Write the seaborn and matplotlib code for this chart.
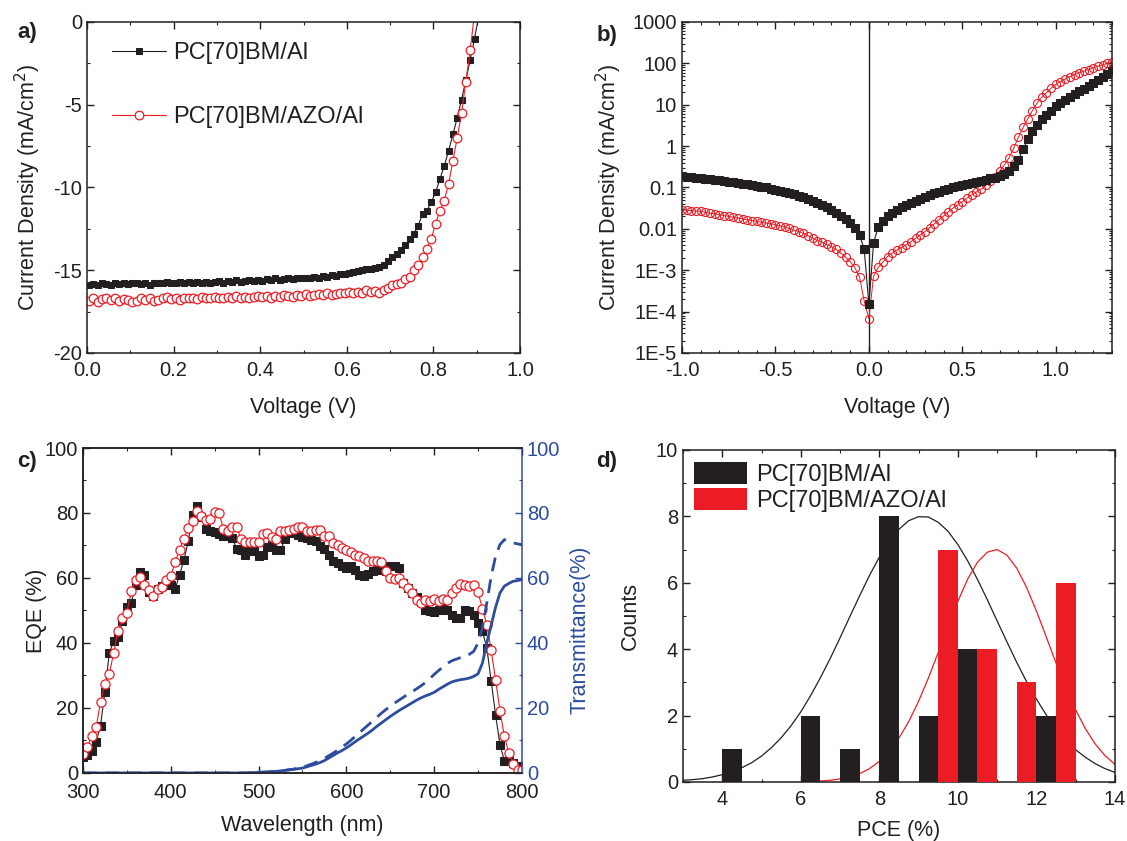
import numpy as np
import seaborn as sns
import matplotlib.pyplot as plt
from matplotlib.patches import Patch
from matplotlib.ticker import MultipleLocator, LogLocator, NullFormatter, FormatStrFormatter

# ---------------- data ----------------
# a) J-V under illumination
voltage_a = np.round(np.arange(0.005, 0.91, 0.01), 3)
j_al = [-15.90, -15.85, -15.90, -15.80, -15.85, -15.90, -15.80, -15.85, -15.80, -15.85,
        -15.80, -15.75, -15.85, -15.80, -15.90, -15.80, -15.75, -15.80, -15.70, -15.80,
        -15.75, -15.70, -15.80, -15.70, -15.75, -15.70, -15.80, -15.70, -15.75, -15.70,
        -15.65, -15.75, -15.65, -15.70, -15.60, -15.70, -15.65, -15.60, -15.65, -15.60,
        -15.65, -15.55, -15.60, -15.50, -15.60, -15.55, -15.50, -15.55, -15.45, -15.50,
        -15.45, -15.50, -15.40, -15.45, -15.35, -15.40, -15.30, -15.35, -15.25, -15.20,
        -15.15, -15.10, -15.05, -15.00, -14.95, -14.90, -14.85, -14.80, -14.70, -14.45,
        -14.20, -14.00, -13.80, -13.50, -13.10, -12.80, -12.30, -11.60, -11.40, -10.90,
        -10.30, -9.50, -8.70, -7.80, -6.80, -5.80, -4.70, -3.50, -2.30, -1.00,
        0.40]
j_azo = [-16.85, -16.70, -16.90, -16.75, -16.70, -16.80, -16.70, -16.85, -16.75, -16.80,
         -16.90, -16.85, -16.70, -16.80, -16.70, -16.85, -16.80, -16.70, -16.60, -16.75,
         -16.70, -16.80, -16.70, -16.65, -16.70, -16.75, -16.60, -16.70, -16.65, -16.60,
         -16.70, -16.65, -16.60, -16.70, -16.55, -16.65, -16.60, -16.70, -16.60, -16.55,
         -16.60, -16.55, -16.65, -16.55, -16.60, -16.50, -16.55, -16.60, -16.50, -16.55,
         -16.45, -16.55, -16.50, -16.45, -16.50, -16.40, -16.50, -16.45, -16.40, -16.40,
         -16.30, -16.40, -16.30, -16.35, -16.20, -16.30, -16.25, -16.35, -16.20, -16.10,
         -15.90, -15.85, -15.80, -15.55, -15.40, -15.00, -14.70, -14.20, -13.70, -13.10,
         -12.20, -11.40, -10.80, -9.80, -8.40, -7.00, -5.50, -3.60, -1.70, 0.50,
         2.50]

# b) dark J-V (absolute current density)
voltage_b = np.round(np.arange(-1.0, 1.3001, 0.025), 3)
jd_al = [0.186, 0.182, 0.178, 0.174, 0.170, 0.164, 0.158, 0.153, 0.148, 0.143,
         0.138, 0.133, 0.129, 0.124, 0.120, 0.115, 0.110, 0.105, 0.100, 0.0933,
         0.0871, 0.0832, 0.0776, 0.0724, 0.0676, 0.0631, 0.0575, 0.0525, 0.0468, 0.0427,
         0.0380, 0.0331, 0.0288, 0.0245, 0.0204, 0.0170, 0.0138, 0.0105, 0.0071, 0.0032,
         0.00015, 0.0045, 0.0112, 0.0151, 0.0200, 0.0240, 0.0282, 0.0331, 0.0380, 0.0427,
         0.0479, 0.0537, 0.0603, 0.0661, 0.0724, 0.0794, 0.0871, 0.0933, 0.102, 0.110,
         0.116, 0.123, 0.130, 0.138, 0.145, 0.155, 0.166, 0.174, 0.186, 0.209,
         0.245, 0.324, 0.468, 0.832, 1.45, 2.29, 3.31, 4.47, 5.75, 7.24,
         9.12, 11.0, 12.9, 15.1, 17.8, 20.9, 24.5, 28.8, 33.9, 39.8,
         46.8, 55.0, 64.6]
jd_azo = [0.0288, 0.0282, 0.0275, 0.0269, 0.0263, 0.0251, 0.0240, 0.0229, 0.0219, 0.0209,
          0.0200, 0.0191, 0.0182, 0.0174, 0.0166, 0.0158, 0.0151, 0.0145, 0.0138, 0.0132,
          0.0126, 0.0117, 0.0110, 0.0102, 0.0093, 0.0085, 0.0078, 0.0068, 0.0059, 0.0052,
          0.0047, 0.0042, 0.0037, 0.0032, 0.0026, 0.0021, 0.0016, 0.00115, 0.00069, 0.00018,
          0.000068, 0.00071, 0.00117, 0.00158, 0.00214, 0.0026, 0.0031, 0.0035, 0.0041, 0.0049,
          0.0059, 0.0071, 0.0085, 0.0107, 0.0132, 0.0166, 0.0204, 0.0257, 0.0316, 0.0380,
          0.0457, 0.0550, 0.0661, 0.0776, 0.0912, 0.112, 0.141, 0.182, 0.251, 0.355,
          0.525, 0.891, 1.66, 2.82, 4.57, 7.24, 11.0, 15.1, 19.5, 25.1,
          30.9, 36.3, 41.7, 47.9, 53.7, 58.9, 64.6, 70.8, 77.6, 85.1,
          91.2, 100.0, 107.0]
log_ticks = [1e-5, 1e-4, 1e-3, 1e-2, 1e-1, 1, 10, 100, 1000]
log_labels = ["1E-5", "1E-4", "1E-3", "0.01", "0.1", "1", "10", "100", "1000"]

# c) EQE and transmittance
wavelength = np.arange(300, 801, 5)
eqe_al = [5.0, 5.5, 6.9, 9.4, 14.6, 25.0, 37.0, 40.5, 41.8, 46.7,
          51.0, 52.3, 57.9, 61.8, 60.8, 55.6, 54.6, 56.5, 57.5, 58.2,
          57.9, 56.7, 60.8, 65.6, 71.3, 79.3, 82.1, 78.8, 75.0, 74.5,
          74.0, 73.5, 73.0, 72.8, 72.4, 69.0, 68.5, 67.1, 68.8, 68.2,
          66.7, 67.0, 69.5, 70.0, 68.7, 68.5, 72.0, 73.8, 73.8, 73.3,
          72.6, 72.3, 71.8, 71.3, 69.7, 68.9, 67.2, 65.1, 64.6, 63.8,
          63.1, 63.6, 62.6, 61.0, 60.5, 61.2, 62.0, 62.8, 62.6, 62.0,
          63.6, 63.8, 63.0, 58.5, 56.9, 55.4, 54.0, 52.5, 50.3, 49.7,
          49.4, 50.3, 50.8, 50.0, 48.7, 47.7, 47.7, 50.3, 49.7, 48.7,
          46.2, 43.6, 38.5, 28.2, 17.9, 8.7, 3.8, 3.6, 3.1, 2.0,
          0.5]
eqe_azo = [5.9, 7.9, 11.5, 14.0, 21.8, 27.4, 30.5, 37.0, 43.8, 47.6,
           49.3, 55.9, 59.4, 60.3, 57.7, 56.4, 54.6, 56.7, 57.2, 59.5,
           60.5, 64.9, 68.7, 72.1, 75.4, 77.4, 80.5, 79.0, 77.7, 78.2,
           80.3, 80.0, 75.2, 74.6, 75.7, 75.7, 72.1, 71.0, 71.0, 71.0,
           71.0, 73.6, 73.8, 72.6, 72.1, 74.4, 74.6, 74.9, 75.1, 75.6,
           75.6, 74.4, 74.4, 74.9, 74.9, 72.8, 72.8, 70.8, 70.3, 69.2,
           68.7, 67.9, 67.2, 66.7, 66.2, 65.3, 65.1, 65.1, 64.9, 62.1,
           60.0, 59.7, 60.0, 58.5, 56.9, 55.4, 53.3, 52.3, 53.3, 52.8,
           53.5, 52.8, 53.5, 53.3, 55.4, 56.9, 58.3, 57.9, 57.6, 57.9,
           55.6, 50.6, 45.6, 37.7, 28.7, 19.2, 11.3, 6.2, 2.9, 1.0,
           1.0]
trans_solid = [0.0, 0.0, 0.0, 0.0, 0.0, 0.0, 0.0, 0.0, 0.0, 0.0,
               0.0, 0.0, 0.0, 0.0, 0.0, 0.0, 0.0, 0.0, 0.0, 0.0,
               0.0, 0.0, 0.0, 0.0, 0.0, 0.0, 0.0, 0.0, 0.0, 0.0,
               0.0, 0.0, 0.0, 0.0, 0.0, 0.0, 0.0, 0.0, 0.05, 0.1,
               0.2, 0.25, 0.3, 0.4, 0.5, 0.65, 0.8, 0.95, 1.1, 1.3,
               1.5, 1.9, 2.3, 2.7, 3.2, 3.8, 4.6, 5.4, 6.2, 6.9,
               7.7, 8.6, 9.6, 10.5, 11.4, 12.3, 13.3, 14.4, 15.4, 16.4,
               17.4, 18.3, 19.2, 20.0, 20.8, 21.6, 22.4, 23.1, 23.7, 24.2,
               24.8, 25.7, 26.5, 27.3, 28.0, 28.4, 28.7, 28.9, 29.2, 29.7,
               30.5, 33.8, 40.0, 45.5, 51.0, 55.4, 57.5, 58.3, 59.0, 59.2,
               59.5]
trans_dashed = [0.0, 0.0, 0.0, 0.0, 0.0, 0.0, 0.0, 0.0, 0.0, 0.0,
                0.0, 0.0, 0.0, 0.0, 0.0, 0.0, 0.0, 0.0, 0.0, 0.0,
                0.0, 0.0, 0.0, 0.0, 0.0, 0.0, 0.0, 0.0, 0.0, 0.0,
                0.0, 0.0, 0.0, 0.0, 0.0, 0.0, 0.0, 0.0, 0.05, 0.1,
                0.2, 0.25, 0.3, 0.4, 0.5, 0.65, 0.8, 1.0, 1.2, 1.5,
                1.8, 2.2, 2.7, 3.2, 3.8, 4.5, 5.3, 6.1, 7.0, 8.0,
                8.9, 10.0, 11.2, 12.4, 13.6, 14.8, 16.0, 17.2, 18.4, 19.5,
                20.5, 21.5, 22.4, 23.3, 24.2, 25.0, 25.9, 26.8, 27.8, 29.0,
                30.3, 31.5, 32.6, 33.7, 34.5, 35.0, 35.5, 36.0, 36.5, 37.4,
                40.0, 44.6, 52.3, 60.5, 66.7, 70.3, 71.8, 71.3, 70.8, 70.5,
                70.3]

# d) PCE histogram + normal fits
pce_al = [4.25, 6.25, 7.25, 8.25, 9.25, 10.25, 12.25]
counts_al = [1, 2, 1, 8, 2, 4, 2]
pce_azo = [9.75, 10.75, 11.75, 12.75]
counts_azo = [7, 4, 3, 6]
fit_x_al = np.arange(3.0, 14.01, 0.25)
fit_al = [0.05, 0.07, 0.10, 0.15, 0.22, 0.31, 0.43, 0.58, 0.78, 1.03, 1.33, 1.69,
          2.11, 2.60, 3.14, 3.72, 4.34, 4.98, 5.61, 6.22, 6.77, 7.24, 7.61, 7.87,
          7.99, 7.98, 7.82, 7.55, 7.15, 6.66, 6.10, 5.49, 4.85, 4.22, 3.60, 3.02,
          2.50, 2.02, 1.61, 1.26, 0.97, 0.74, 0.55, 0.40, 0.29]
fit_x_azo = np.arange(6.5, 14.01, 0.25)
fit_azo = [0.03, 0.05, 0.09, 0.15, 0.25, 0.40, 0.62, 0.92, 1.32, 1.82, 2.43, 3.13,
           3.90, 4.69, 5.44, 6.11, 6.62, 6.92, 7.00, 6.83, 6.44, 5.86, 5.15, 4.37,
           3.58, 2.84, 2.17, 1.60, 1.14, 0.79, 0.53]

label_al = "PC[70]BM/Al"
label_azo = "PC[70]BM/AZO/Al"

# ---------------- style ----------------
sns.set_theme(style="ticks")
dark = "#231f20"
red = "#ec1c24"
blue = "#2e4c9e"
plt.rcParams.update({
    "font.family": ["Liberation Sans", "DejaVu Sans"],
    "axes.unicode_minus": False,
    "xtick.direction": "in", "ytick.direction": "in",
    "xtick.top": True, "ytick.right": True,
    "xtick.major.size": 5, "ytick.major.size": 5,
    "xtick.minor.size": 2.5, "ytick.minor.size": 2.5,
    "xtick.major.width": 1.0, "ytick.major.width": 1.0,
    "xtick.minor.width": 0.8, "ytick.minor.width": 0.8,
    "xtick.major.pad": 6.0, "ytick.major.pad": 3.5,
    "xtick.labelsize": 14.5, "ytick.labelsize": 14.5,
    "axes.labelsize": 15.5, "axes.linewidth": 1.1,
    "axes.edgecolor": dark, "xtick.color": dark, "ytick.color": dark,
    "text.color": dark, "axes.labelcolor": dark,
})

fig = plt.figure(figsize=(11.27, 8.41), dpi=100)

# ---- a ----
ax = fig.add_axes([0.0772, 0.5803, 0.3842, 0.3936])
sns.lineplot(x=voltage_a, y=j_al, ax=ax, color=dark, linewidth=0.8, marker="s",
             markersize=5, markeredgecolor=dark, label=label_al)
sns.lineplot(x=voltage_a, y=j_azo, ax=ax, color=red, linewidth=0.8, marker="o",
             markersize=6.2, markerfacecolor="white", markeredgecolor=red,
             markeredgewidth=0.9, label=label_azo)
ax.set_xlim(0, 1.0)
ax.set_ylim(-20, 0)
ax.xaxis.set_major_locator(MultipleLocator(0.2))
ax.xaxis.set_minor_locator(MultipleLocator(0.1))
ax.xaxis.set_major_formatter(FormatStrFormatter("%.1f"))
ax.yaxis.set_major_locator(MultipleLocator(5))
ax.yaxis.set_minor_locator(MultipleLocator(2.5))
ax.set_xlabel("Voltage (V)")
ax.set_ylabel("Current Density (mA/cm$^2$)")
ax.xaxis.set_label_coords(0.5, -0.133)
ax.yaxis.set_label_coords(-0.102, 0.5)
ax.legend(loc="upper left", bbox_to_anchor=(0.036, 0.968), borderaxespad=0,
          frameon=False, fontsize=17, handlelength=2.3, handletextpad=0.3,
          labelspacing=1.8)

# ---- b ----
ax = fig.add_axes([0.6051, 0.5803, 0.3815, 0.3936])
ax.axvline(0, color=dark, linewidth=1.0, zorder=1)
sns.lineplot(x=voltage_b, y=jd_al, ax=ax, color=dark, linewidth=0.8, marker="s",
             markersize=6.2, markeredgecolor=dark, zorder=3)
sns.lineplot(x=voltage_b, y=jd_azo, ax=ax, color=red, linewidth=0.7, marker="o",
             markersize=5.8, markerfacecolor="none", markeredgecolor=red,
             markeredgewidth=0.8, zorder=2)
ax.set_yscale("log")
ax.set_xlim(-1.0, 1.3)
ax.set_ylim(1e-5, 1000)
ax.set_yticks(log_ticks, log_labels)
ax.yaxis.set_minor_locator(LogLocator(base=10, subs=np.arange(2, 10), numticks=100))
ax.yaxis.set_minor_formatter(NullFormatter())
ax.xaxis.set_major_locator(MultipleLocator(0.5))
ax.xaxis.set_minor_locator(MultipleLocator(0.1))
ax.xaxis.set_major_formatter(FormatStrFormatter("%.1f"))
ax.set_xlabel("Voltage (V)")
ax.set_ylabel("Current Density (mA/cm$^2$)")
ax.xaxis.set_label_coords(0.5, -0.133)
ax.yaxis.set_label_coords(-0.135, 0.5)

# ---- c ----
ax = fig.add_axes([0.0736, 0.0809, 0.3895, 0.3864])
sns.lineplot(x=wavelength, y=eqe_al, ax=ax, color=dark, linewidth=0.8, marker="s",
             markersize=6, markeredgecolor=dark)
sns.lineplot(x=wavelength, y=eqe_azo, ax=ax, color=red, linewidth=0.8, marker="o",
             markersize=6.6, markerfacecolor="white", markeredgecolor=red,
             markeredgewidth=0.9)
ax.set_xlim(300, 800)
ax.set_ylim(0, 100)
ax.xaxis.set_major_locator(MultipleLocator(100))
ax.xaxis.set_minor_locator(MultipleLocator(50))
ax.yaxis.set_major_locator(MultipleLocator(20))
ax.yaxis.set_minor_locator(MultipleLocator(10))
ax.tick_params(which="both", right=False)
ax.tick_params(axis="x", pad=7.5)
ax.spines["right"].set_visible(False)
ax.set_xlabel("Wavelength (nm)")
ax.set_ylabel("EQE (%)")
ax.xaxis.set_label_coords(0.5, -0.129)
ax.yaxis.set_label_coords(-0.082, 0.5)

ax2 = ax.twinx()
sns.lineplot(x=wavelength, y=trans_solid, ax=ax2, color=blue, linewidth=2.0)
sns.lineplot(x=wavelength, y=trans_dashed, ax=ax2, color=blue, linewidth=2.0,
             linestyle=(0, (5, 3)))
ax2.set_ylim(0, 100)
ax2.yaxis.set_major_locator(MultipleLocator(20))
ax2.yaxis.set_minor_locator(MultipleLocator(10))
ax2.tick_params(which="both", left=False, right=True, colors=blue)
ax2.tick_params(axis="y", labelcolor=blue)
ax2.spines["right"].set_color(blue)
ax2.set_ylabel("Transmittance(%)", color=blue)
ax2.yaxis.set_label_coords(1.109, 0.44)

# ---- d ----
ax = fig.add_axes([0.606, 0.0702, 0.3833, 0.3948])
sns.lineplot(x=fit_x_al, y=fit_al, ax=ax, color=dark, linewidth=0.9, zorder=1)
sns.lineplot(x=fit_x_azo, y=fit_azo, ax=ax, color=red, linewidth=0.9, zorder=1)
sns.histplot(x=pce_al, weights=counts_al, binwidth=0.5, binrange=(4.0, 12.5),
             color=dark, alpha=1, linewidth=0, ax=ax, zorder=3)
sns.histplot(x=pce_azo, weights=counts_azo, binwidth=0.5, binrange=(9.5, 13.0),
             color=red, alpha=1, linewidth=0, ax=ax, zorder=3)
ax.set_xlim(3, 14)
ax.set_ylim(0, 10)
ax.xaxis.set_major_locator(MultipleLocator(2))
ax.xaxis.set_minor_locator(MultipleLocator(1))
ax.yaxis.set_major_locator(MultipleLocator(2))
ax.yaxis.set_minor_locator(MultipleLocator(1))
ax.set_xlabel("PCE (%)")
ax.set_ylabel("Counts")
ax.xaxis.set_label_coords(0.5, -0.114)
ax.yaxis.set_label_coords(-0.097, 0.5)
handles = [Patch(facecolor=dark, edgecolor="none"), Patch(facecolor=red, edgecolor="none")]
ax.legend(handles, [label_al, label_azo], loc="upper left", bbox_to_anchor=(0.025, 0.964),
          borderaxespad=0, borderpad=0, frameon=False, fontsize=17,
          handlelength=2.25, handleheight=1.06, labelspacing=0.08, handletextpad=0.4)

# panel letters
for txt, x, y in [("a)", 0.015, 0.961), ("b)", 0.529, 0.958), ("c)", 0.015, 0.451), ("d)", 0.529, 0.451)]:
    fig.text(x, y, txt, fontsize=16, fontweight="bold", va="center", ha="left")

fig.savefig("out.png", dpi=100)
